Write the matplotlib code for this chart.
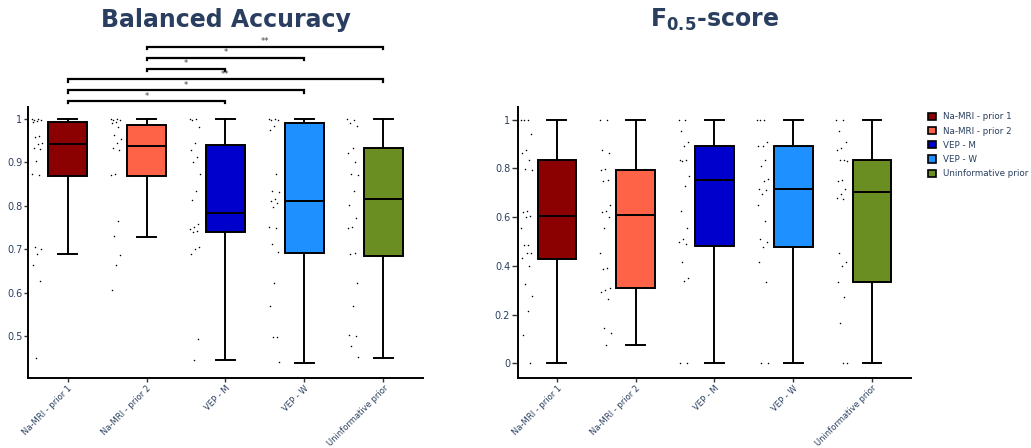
import numpy as np
import matplotlib.pyplot as plt
from matplotlib.patches import Patch

categories = ['Na-MRI - prior 1', 'Na-MRI - prior 2', 'VEP - M', 'VEP - W', 'Uninformative prior']
colors = ['#8B0000', '#FF6347', '#0000CD', '#1E90FF', '#6B8E23']

# balanced accuracy, box statistics
bacc_min = [0.690, 0.728, 0.445, 0.437, 0.450]
bacc_q1 = [0.868, 0.868, 0.740, 0.692, 0.685]
bacc_med = [0.942, 0.939, 0.784, 0.812, 0.816]
bacc_q3 = [0.993, 0.987, 0.941, 0.992, 0.933]
bacc_max = [1.0, 1.0, 1.0, 1.0, 1.0]

bacc_pts_prior1 = [1.0, 1.0, 0.999, 0.998, 0.996, 0.994, 0.96, 0.958, 0.945, 0.942, 0.934, 0.932,
                   0.903, 0.873, 0.871, 0.706, 0.701, 0.69, 0.664, 0.626, 0.45]
bacc_pts_prior2 = [1.0, 1.0, 0.999, 0.997, 0.994, 0.99, 0.982, 0.963, 0.955, 0.944, 0.934, 0.929,
                   0.873, 0.871, 0.765, 0.73, 0.686, 0.664, 0.605]
bacc_pts_vep_m = [1.0, 1.0, 0.999, 0.982, 0.944, 0.929, 0.912, 0.901, 0.873, 0.834, 0.813, 0.757,
                  0.752, 0.747, 0.742, 0.74, 0.705, 0.701, 0.69, 0.492, 0.445]
bacc_pts_vep_w = [1.0, 1.0, 0.999, 0.997, 0.984, 0.976, 0.873, 0.834, 0.832, 0.815, 0.811, 0.806,
                  0.798, 0.752, 0.75, 0.711, 0.694, 0.623, 0.569, 0.498, 0.497, 0.439]
bacc_pts_uninf = [1.0, 0.998, 0.992, 0.985, 0.934, 0.922, 0.901, 0.873, 0.871, 0.834, 0.801, 0.773,
                  0.752, 0.75, 0.692, 0.689, 0.623, 0.569, 0.502, 0.5, 0.477, 0.452]

# F0.5-score
f05_min = [0.0, 0.074, 0.0, 0.0, 0.0]
f05_q1 = [0.428, 0.308, 0.483, 0.476, 0.332]
f05_med = [0.605, 0.607, 0.751, 0.714, 0.703]
f05_q3 = [0.833, 0.793, 0.892, 0.892, 0.833]
f05_max = [1.0, 1.0, 1.0, 1.0, 1.0]

f05_pts_prior1 = [1, 1, 1, 0.94, 0.876, 0.865, 0.834, 0.796, 0.794, 0.627, 0.623, 0.605, 0.602,
                  0.557, 0.486, 0.484, 0.454, 0.452, 0.431, 0.401, 0.325, 0.278, 0.216, 0.116, 0.0]
f05_pts_prior2 = [1, 1, 0.876, 0.865, 0.796, 0.794, 0.752, 0.75, 0.65, 0.627, 0.62, 0.602, 0.557,
                  0.454, 0.393, 0.386, 0.308, 0.301, 0.294, 0.263, 0.146, 0.123, 0.074]
f05_pts_vep_m = [1, 1, 0.955, 0.91, 0.892, 0.834, 0.833, 0.832, 0.769, 0.729, 0.627, 0.557, 0.509,
                 0.5, 0.49, 0.416, 0.352, 0.34, 0, 0]
f05_pts_vep_w = [1, 1, 1, 0.91, 0.892, 0.89, 0.834, 0.81, 0.755, 0.75, 0.714, 0.712, 0.694, 0.65,
                 0.584, 0.51, 0.5, 0.476, 0.416, 0.332, 0, 0]
f05_pts_uninf = [1, 1, 0.953, 0.91, 0.882, 0.876, 0.834, 0.833, 0.832, 0.752, 0.75, 0.714, 0.694,
                 0.677, 0.675, 0.454, 0.417, 0.4, 0.332, 0.274, 0.167, 0, 0]

# significance brackets on the balanced accuracy panel (from, to, label)
sig_from = [0, 0, 0, 1, 1, 1]
sig_to = [2, 3, 4, 2, 3, 4]
sig_label = ['*', '*', '**', '*', '*', '**']

text_color = '#2a3f5f'


def jitter(n, spread):
	# deterministic spread so the dots sit next to each other
	return ((np.arange(n) * 0.618034) % 1.0 - 0.5) * 2 * spread


def draw_panel(ax, mins, q1s, meds, q3s, maxs, points, ylim, yticks, yticklabels, ytick_len):
	stats = []
	for i in range(len(categories)):
		stats.append({'whislo': mins[i], 'q1': q1s[i], 'med': meds[i], 'q3': q3s[i],
					  'whishi': maxs[i], 'fliers': []})
	bp = ax.bxp(stats, positions=range(len(categories)), widths=0.49, capwidths=0.24,
				patch_artist=True, showfliers=False,
				boxprops=dict(edgecolor='black', linewidth=1.4),
				medianprops=dict(color='black', linewidth=1.4),
				whiskerprops=dict(color='black', linewidth=1.4),
				capprops=dict(color='black', linewidth=1.4))
	for box, c in zip(bp['boxes'], colors):
		box.set_facecolor(c)
	for i, pts in enumerate(points):
		pts = np.array(pts)
		ax.scatter(i - 0.385 + jitter(len(pts), 0.07), pts, s=1.2, color='black', linewidths=0, zorder=3)

	ax.set_xlim(-0.5, 4.5)
	ax.set_ylim(*ylim)
	ax.set_yticks(yticks)
	ax.set_yticklabels(yticklabels)
	ax.set_xticks(range(len(categories)))
	ax.set_xticklabels(categories, rotation=45, ha='right', rotation_mode='anchor')
	ax.tick_params(axis='y', length=ytick_len, width=1, color='#333333', labelsize=7,
				   labelcolor=text_color, pad=1)
	ax.tick_params(axis='x', length=3, width=1, color='#333333', labelsize=6,
				   labelcolor=text_color, pad=1)
	for s in ['top', 'right']:
		ax.spines[s].set_visible(False)
	for s in ['left', 'bottom']:
		ax.spines[s].set_linewidth(1.4)
		ax.spines[s].set_color('black')


fig = plt.figure(figsize=(10.31, 4.48), dpi=100)
ax1 = fig.add_axes([0.0272, 0.15625, 0.383, 0.605])
ax2 = fig.add_axes([0.502, 0.15625, 0.382, 0.605])

draw_panel(ax1, bacc_min, bacc_q1, bacc_med, bacc_q3, bacc_max,
		   [bacc_pts_prior1, bacc_pts_prior2, bacc_pts_vep_m, bacc_pts_vep_w, bacc_pts_uninf],
		   (0.403, 1.028), [0.5, 0.6, 0.7, 0.8, 0.9, 1.0], ['0.5', '0.6', '0.7', '0.8', '0.9', '1'], 3)
draw_panel(ax2, f05_min, f05_q1, f05_med, f05_q3, f05_max,
		   [f05_pts_prior1, f05_pts_prior2, f05_pts_vep_m, f05_pts_vep_w, f05_pts_uninf],
		   (-0.060, 1.052), [0, 0.2, 0.4, 0.6, 0.8, 1.0], ['0', '0.2', '0.4', '0.6', '0.8', '1'], 4.3)

# significance brackets above the left panel
for k in range(len(sig_from)):
	y = 1.041 + k * 0.0252
	x0, x1 = sig_from[k], sig_to[k]
	ax1.plot([x0, x0, x1, x1], [y - 0.005, y, y, y - 0.005], color='black', linewidth=1.6,
			 clip_on=False, solid_joinstyle='miter')
	ax1.text((x0 + x1) / 2, y + 0.001, sig_label[k], ha='center', va='bottom', fontsize=6,
			 color='#444444', clip_on=False)

fig.text(0.2187, 0.955, 'Balanced Accuracy', ha='center', va='center', fontsize=17,
		 fontweight='bold', color=text_color)
fig.text(0.6935, 0.955, r'F$_{\mathbf{0.5}}$-score', ha='center', va='center', fontsize=17,
		 fontweight='bold', color=text_color)

handles = [Patch(facecolor=c, edgecolor='black', linewidth=1.2, label=l) for c, l in zip(colors, categories)]
fig.legend(handles=handles, loc='upper left', bbox_to_anchor=(0.897, 0.757), frameon=False,
		   fontsize=6.3, handlelength=0.9, handleheight=0.9, handletextpad=0.8, labelspacing=0.6,
		   labelcolor=text_color, borderaxespad=0)

fig.savefig('out.png', dpi=100)
